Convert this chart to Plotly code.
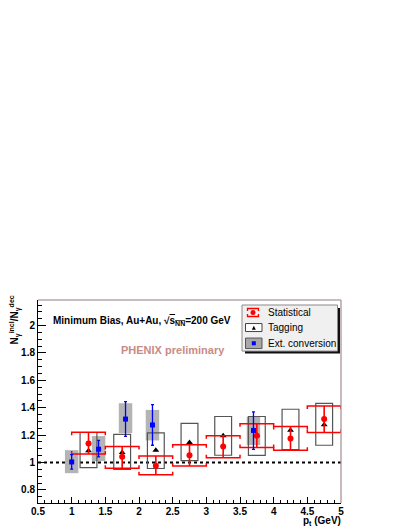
import plotly.graph_objects as go

# ---------------- data ----------------
x_stat = [1.25, 1.75, 2.25, 2.75, 3.25, 3.75, 4.25, 4.75]
y_stat = [1.139, 1.041, 0.977, 1.053, 1.117, 1.195, 1.175, 1.317]
stat_hi = [1.220, 1.117, 1.048, 1.130, 1.196, 1.283, 1.263, 1.413]
stat_lo = [1.062, 0.958, 0.910, 0.974, 1.035, 1.109, 1.090, 1.219]
sys_hi = [1.220, 1.117, 1.048, 1.130, 1.196, 1.283, 1.263, 1.413]
sys_lo = [1.062, 0.958, 0.910, 0.974, 1.035, 1.109, 1.090, 1.219]

x_tag = [1.25, 1.75, 2.25, 2.75, 3.25, 3.75, 4.25, 4.75]
y_tag = [1.085, 1.073, 1.090, 1.146, 1.195, 1.200, 1.236, 1.275]
tag_hi = [1.219, 1.205, 1.217, 1.285, 1.336, 1.336, 1.389, 1.432]
tag_lo = [0.963, 0.949, 0.956, 1.014, 1.053, 1.052, 1.095, 1.126]

x_ext = [1.0, 1.4, 1.8, 2.2, 3.7]
y_ext = [1.004, 1.097, 1.317, 1.274, 1.234]
ext_err_hi = [1.058, 1.162, 1.444, 1.422, 1.370]
ext_err_lo = [0.952, 1.041, 1.190, 1.126, 1.096]
ext_sys_hi = [1.090, 1.193, 1.433, 1.384, 1.334]
ext_sys_lo = [0.922, 1.011, 1.215, 1.161, 1.127]

x_range = [0.5, 5.0]
y_range = [0.704, 2.187]
ref_level = 1.0

# ---------------- layout geometry (page pixels) ----------------
PAGE_W, PAGE_H = 409, 529
OFF = 8                      # default body margin of the html page
W, H = PAGE_W - OFF, PAGE_H - OFF
L, R, T, B = 38, 341, 300, 502.7
PW, PH = R - L, B - T
px_per_y = PH / (y_range[1] - y_range[0])


def pxx(x):
    return (x - L) / PW


def pyy(y):
    return (B - y) / PH


FONT = "Liberation Sans, Arial, Helvetica, sans-serif"
RED = "#ff0000"
BLUE = "#0000ff"

fig = go.Figure()

# gray boxes: ext. conversion systematics
fig.add_trace(go.Bar(
    x=x_ext, base=ext_sys_lo,
    y=[h - l for h, l in zip(ext_sys_hi, ext_sys_lo)],
    width=0.2, marker=dict(color="#b4b4b4", line=dict(width=0)),
    showlegend=False, hoverinfo="skip"))

# open boxes: tagging systematics
fig.add_trace(go.Bar(
    x=x_tag, base=tag_lo,
    y=[h - l for h, l in zip(tag_hi, tag_lo)],
    width=0.25, marker=dict(color="rgba(0,0,0,0)",
                            line=dict(color="#555555", width=1.2)),
    showlegend=False, hoverinfo="skip"))

# tagging markers
fig.add_trace(go.Scatter(
    x=x_tag, y=y_tag, mode="markers",
    marker=dict(symbol="triangle-up", size=6, color="black"),
    showlegend=False, hoverinfo="skip"))

# red brackets (systematic)
tick = 3.0 / px_per_y
bx, by = [], []
for xi, hi, lo in zip(x_stat, sys_hi, sys_lo):
    bx += [xi - 0.25, xi - 0.25, xi + 0.25, xi + 0.25, None]
    by += [hi - tick, hi, hi, hi - tick, None]
    bx += [xi - 0.25, xi - 0.25, xi + 0.25, xi + 0.25, None]
    by += [lo + tick, lo, lo, lo + tick, None]
fig.add_trace(go.Scatter(
    x=bx, y=by, mode="lines", line=dict(color=RED, width=1.5),
    showlegend=False, hoverinfo="skip", cliponaxis=False))

# red points with stat error bars
fig.add_trace(go.Scatter(
    x=x_stat, y=y_stat, mode="markers",
    marker=dict(symbol="circle", size=6, color=RED),
    error_y=dict(type="data", symmetric=False,
                 array=[h - y for h, y in zip(stat_hi, y_stat)],
                 arrayminus=[y - l for y, l in zip(y_stat, stat_lo)],
                 color=RED, thickness=1.6, width=0),
    showlegend=False, hoverinfo="skip"))

# blue points (ext. conversion)
fig.add_trace(go.Scatter(
    x=x_ext, y=y_ext, mode="markers",
    marker=dict(symbol="square", size=5, color=BLUE),
    error_y=dict(type="data", symmetric=False,
                 array=[h - y for h, y in zip(ext_err_hi, y_ext)],
                 arrayminus=[y - l for y, l in zip(y_ext, ext_err_lo)],
                 color=BLUE, thickness=1.3, width=1.5),
    showlegend=False, hoverinfo="skip"))

shapes = []
# dotted reference line
shapes.append(dict(type="line", xref="paper", yref="y", x0=0, x1=1,
                   y0=ref_level, y1=ref_level,
                   line=dict(color="black", width=2, dash="dot"), layer="below"))
# top and right frame borders
shapes.append(dict(type="line", xref="paper", yref="paper", x0=0, x1=1, y0=1, y1=1,
                   line=dict(color="#8f7f7f", width=1)))
shapes.append(dict(type="line", xref="paper", yref="paper", x0=1, x1=1, y0=0, y1=1,
                   line=dict(color="#a08c8c", width=1.2)))

# ---- manual legend ----
shapes.append(dict(type="rect", xref="paper", yref="paper",
                   x0=pxx(245), x1=pxx(340), y0=pyy(353.5), y1=pyy(308),
                   fillcolor="#111111", line=dict(width=0)))
shapes.append(dict(type="rect", xref="paper", yref="paper",
                   x0=pxx(242), x1=pxx(337.5), y0=pyy(351), y1=pyy(305),
                   fillcolor="#f0f0f0", line=dict(color="#8a8a8a", width=1)))
# statistical icon
for yy, d in ((308.5, 2.5), (316.5, -2.5)):
    shapes.append(dict(type="path", xref="paper", yref="paper",
                       path="M {} {} L {} {} L {} {} L {} {}".format(
                           pxx(247.5), pyy(yy + d), pxx(247.5), pyy(yy),
                           pxx(258.5), pyy(yy), pxx(258.5), pyy(yy + d)),
                       line=dict(color=RED, width=1.3)))
shapes.append(dict(type="circle", xref="paper", yref="paper",
                   x0=pxx(250.5), x1=pxx(255.5), y0=pyy(315), y1=pyy(310),
                   fillcolor=RED, line=dict(width=0)))
# tagging icon
shapes.append(dict(type="rect", xref="paper", yref="paper",
                   x0=pxx(245.5), x1=pxx(262), y0=pyy(331.5), y1=pyy(323.5),
                   fillcolor="white", line=dict(color="#444444", width=1)))
shapes.append(dict(type="path", xref="paper", yref="paper",
                   path="M {} {} L {} {} L {} {} Z".format(
                       pxx(251.8), pyy(329.6), pxx(255.8), pyy(329.6),
                       pxx(253.8), pyy(325.8)),
                   fillcolor="black", line=dict(width=0)))
# ext. conversion icon
shapes.append(dict(type="rect", xref="paper", yref="paper",
                   x0=pxx(245.5), x1=pxx(262), y0=pyy(348.5), y1=pyy(338),
                   fillcolor="#a8a8a8", line=dict(color="#555555", width=1)))
shapes.append(dict(type="rect", xref="paper", yref="paper",
                   x0=pxx(251.8), x1=pxx(255.8), y0=pyy(345.2), y1=pyy(341.2),
                   fillcolor=BLUE, line=dict(width=0)))

annotations = []
for txt, yy in (("Statistical", 312.7), ("Tagging", 327.7), ("Ext. conversion", 343.3)):
    annotations.append(dict(text=txt, xref="paper", yref="paper",
                            x=pxx(265.5), y=pyy(yy), xanchor="left", yanchor="middle",
                            showarrow=False,
                            font=dict(family=FONT, size=10, color="black")))

annotations.append(dict(
    text="<b>Minimum Bias, Au+Au, √<span style='text-decoration:overline'>s<sub>NN</sub></span>=200 GeV</b>",
    xref="paper", yref="paper", x=pxx(51), y=pyy(320.5), xanchor="left", yanchor="middle",
    showarrow=False, font=dict(family=FONT, size=10, color="black")))
annotations.append(dict(
    text="<b>PHENIX preliminary</b>",
    xref="paper", yref="paper", x=pxx(118.5), y=pyy(349.5), xanchor="left", yanchor="middle",
    showarrow=False, font=dict(family=FONT, size=11, color="#c98b84")))
annotations.append(dict(
    text="<b>N<sub>γ</sub><sup>incl</sup>/N<sub>γ</sub><sup>dec</sup></b>",
    xref="paper", yref="paper", x=pxx(15), y=pyy(294), xanchor="center", yanchor="top",
    textangle=-90, showarrow=False, font=dict(family=FONT, size=10, color="black")))
annotations.append(dict(
    text="<b>p<sub>t</sub> (GeV)</b>",
    xref="paper", yref="paper", x=pxx(343), y=pyy(520.5), xanchor="right", yanchor="middle",
    showarrow=False, font=dict(family=FONT, size=10, color="black")))

tickfont = dict(family=FONT, size=10, color="black", weight="bold")
fig.update_layout(
    width=W, height=H,
    margin=dict(l=L - OFF, r=(OFF + W) - R, t=T - OFF, b=(OFF + H) - B, pad=0,
                autoexpand=False),
    paper_bgcolor="white", plot_bgcolor="white",
    barmode="overlay", showlegend=False,
    shapes=shapes, annotations=annotations,
    xaxis=dict(range=x_range, dtick=0.5, tick0=0.5, ticks="inside", ticklen=6,
               tickwidth=1, tickcolor="black", showline=True, linecolor="black",
               linewidth=1, showgrid=False, zeroline=False, tickfont=tickfont,
               automargin=False, ticklabelstandoff=-1,
               minor=dict(dtick=0.1, ticks="inside", ticklen=3, tickcolor="black",
                          showgrid=False)),
    yaxis=dict(range=y_range, dtick=0.2, tick0=0.8, ticks="inside", ticklen=8,
               tickwidth=1, tickcolor="black", showline=True, linecolor="black",
               linewidth=1, showgrid=False, zeroline=False, tickfont=tickfont,
               automargin=False,
               minor=dict(dtick=0.05, ticks="inside", ticklen=4, tickcolor="black",
                          showgrid=False)),
)

fig.write_html("out.html")
